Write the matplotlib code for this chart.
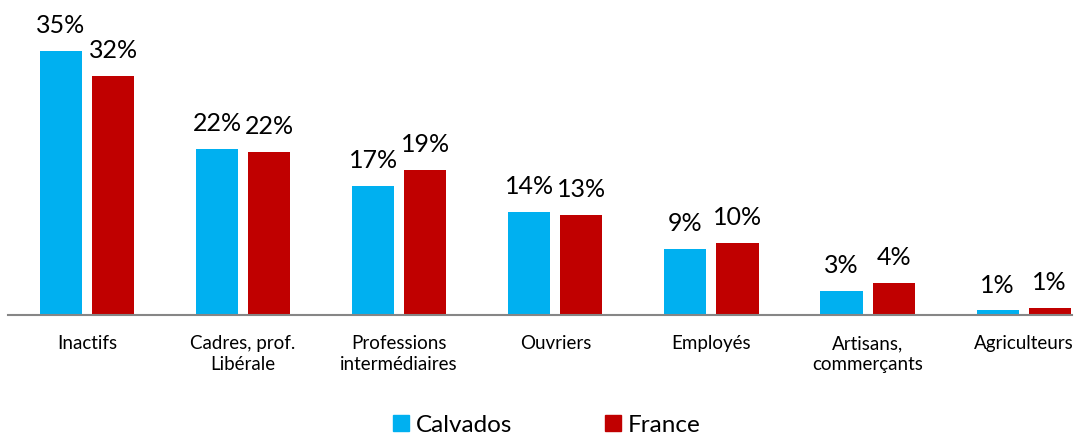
import numpy as np
import matplotlib
matplotlib.use("Agg")
import matplotlib.pyplot as plt
from matplotlib.patches import Patch

# categories and values (%)
categories = ["Inactifs", "Cadres, prof.\nLibérale", "Professions\nintermédiaires",
              "Ouvriers", "Employés", "Artisans,\ncommerçants", "Agriculteurs"]
calvados = [35.0, 22.0, 17.1, 13.6, 8.7, 3.2, 0.6]
france = [31.7, 21.6, 19.2, 13.2, 9.6, 4.3, 0.9]

col_calv = "#00B0F0"
col_fr = "#C00000"

plt.rcParams["font.family"] = ["Lato", "DejaVu Sans"]

fig = plt.figure(figsize=(10.83, 4.39), dpi=100)
ax = fig.add_axes([0.0074, 0.2802, 0.9825, 0.7198])

x = np.arange(len(categories))
w = 0.27
off = 0.167
b1 = ax.bar(x - off, calvados, w, color=col_calv)
b2 = ax.bar(x + off, france, w, color=col_fr)

# data labels
for bars, vals in ((b1, calvados), (b2, france)):
    for b, v in zip(bars, vals):
        ax.text(b.get_x() + b.get_width() / 2, v + 2.5, f"{v:.0f}%",
                ha="center", va="baseline", fontsize=18)

ax.set_xlim(-0.506, 6.31)
ax.set_ylim(0, 41.85)
ax.set_xticks(x)
ax.set_xticklabels(categories, fontsize=13.5, linespacing=1.25)
ax.tick_params(axis="x", length=0, pad=14)
ax.set_yticks([])
for s in ["top", "right", "left"]:
    ax.spines[s].set_visible(False)
ax.spines["bottom"].set_color("#868686")
ax.spines["bottom"].set_linewidth(1.5)

handles = [Patch(color=col_calv, label="Calvados"), Patch(color=col_fr, label="France")]
fig.legend(handles=handles, loc="center", bbox_to_anchor=(0.505, 0.03), ncol=2,
           frameon=False, fontsize=17.5, handlelength=0.65, handleheight=0.65,
           handletextpad=0.3, columnspacing=3.8, borderpad=0.1)

fig.savefig("out.png", dpi=100)
